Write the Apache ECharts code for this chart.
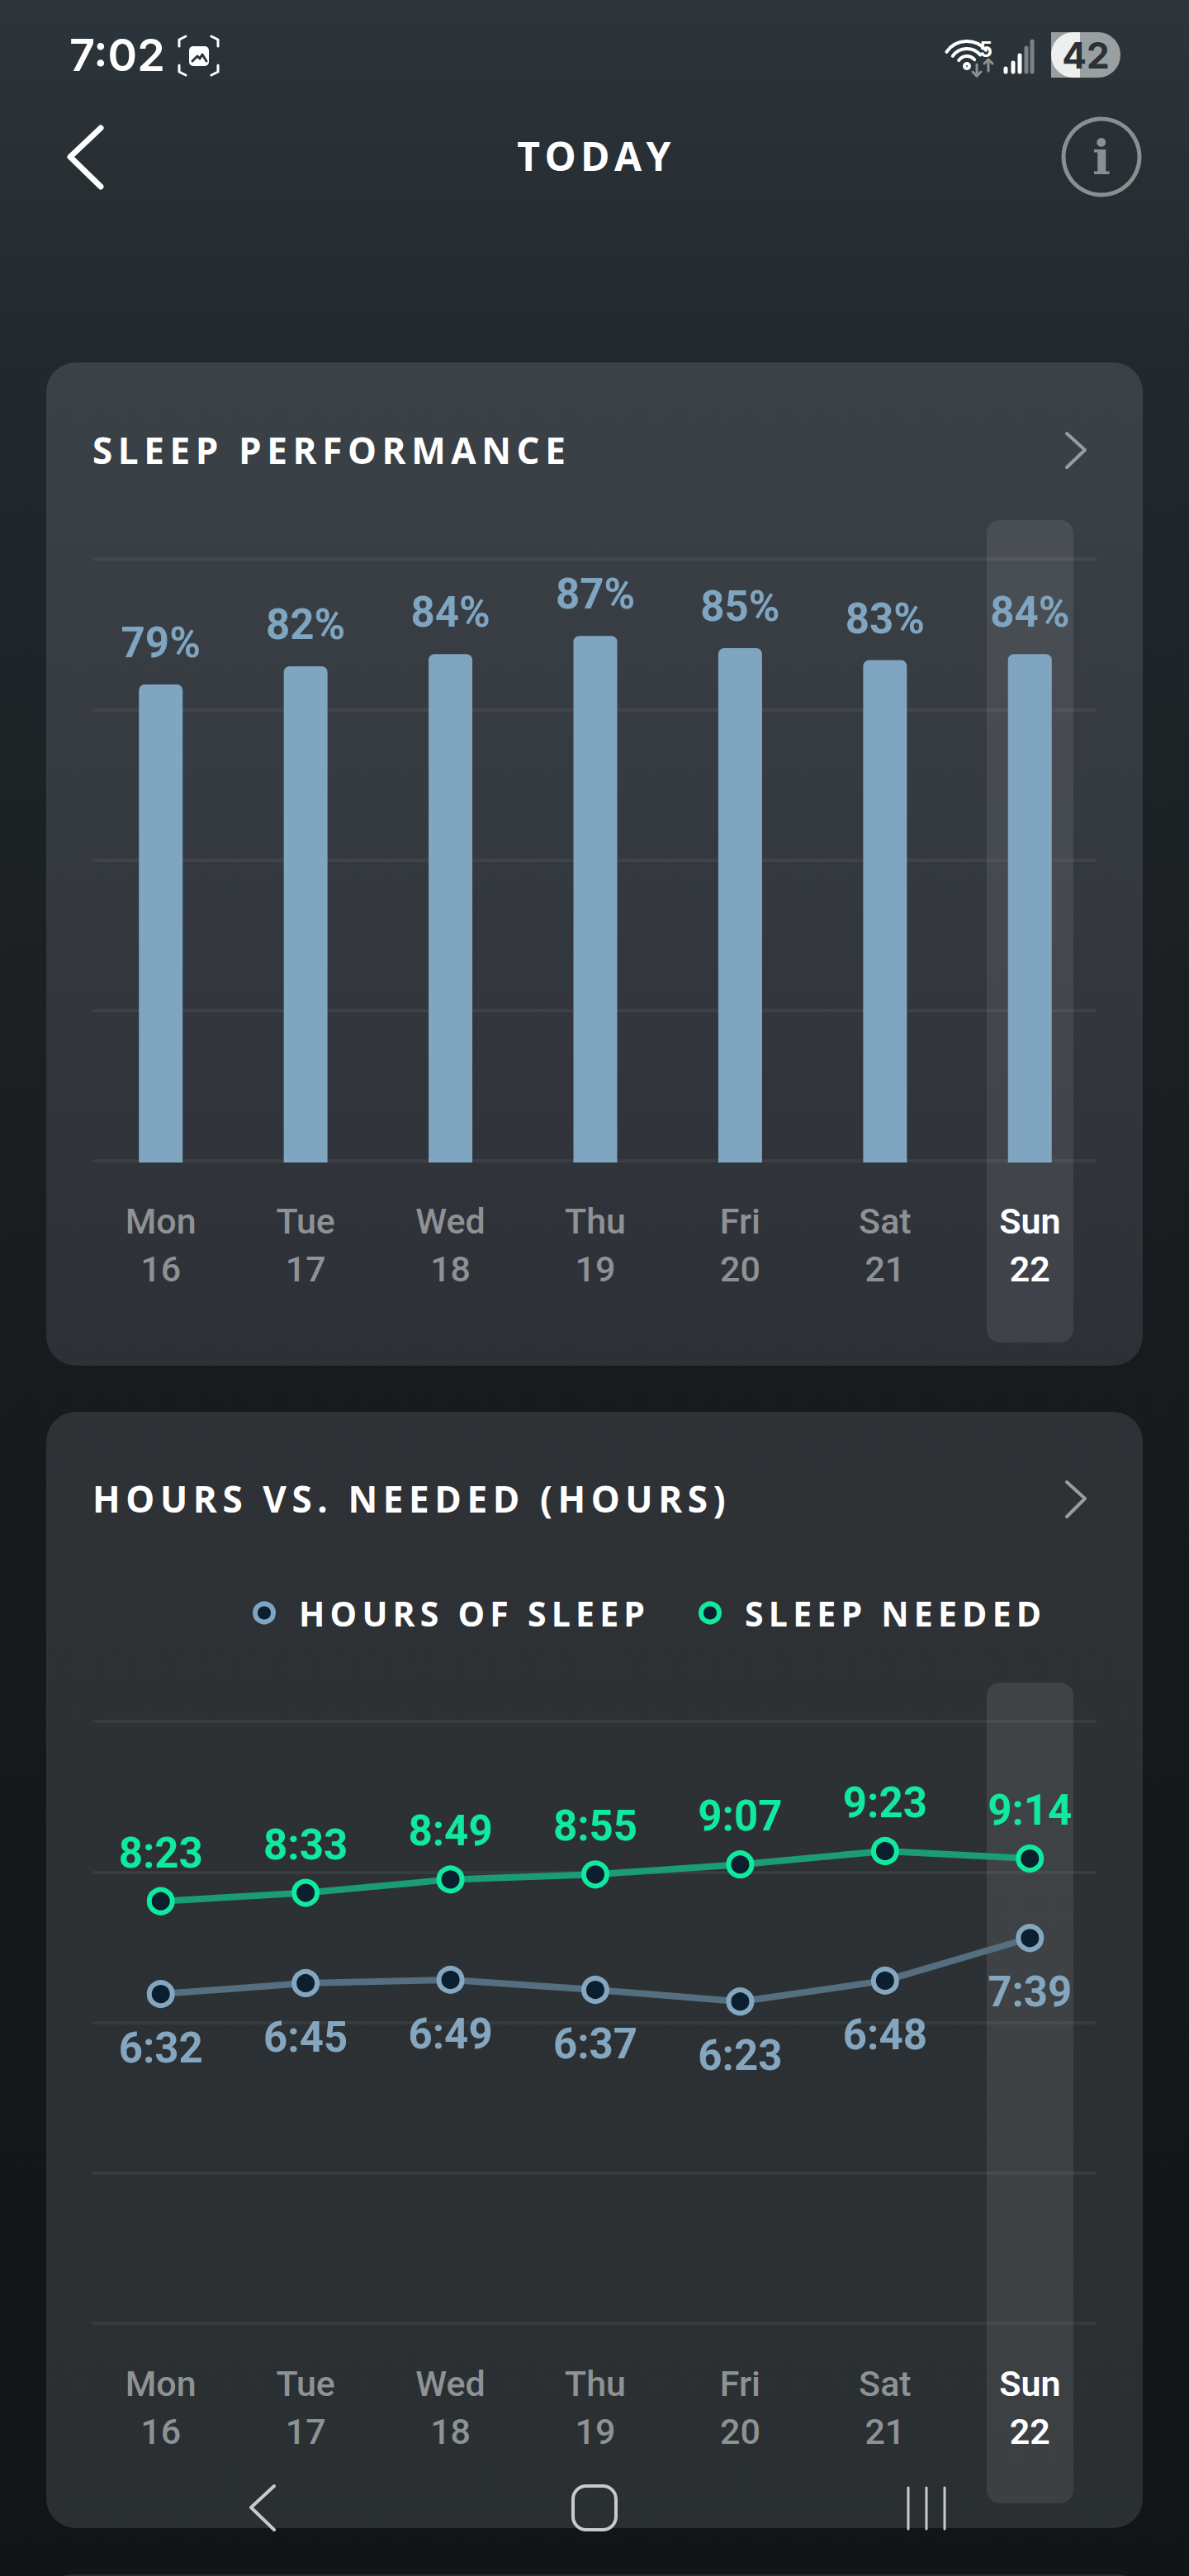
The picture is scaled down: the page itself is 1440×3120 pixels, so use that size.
<!DOCTYPE html>
<html>
<head>
<meta charset="utf-8">
<script src="https://cdn.jsdelivr.net/npm/echarts@6/dist/echarts.min.js"></script>
<style>
html,body{margin:0;padding:0;width:1440px;height:3120px;overflow:hidden;
background:linear-gradient(180deg,#2c353b 0px,#262d31 300px,#22282c 440px,#171b1e 1650px,#111517 3120px);}
#c{width:1440px;height:3120px;}
text[style*="41px"]{letter-spacing:6.2px;}
text[style*="44px"][style*="Open Sans"]{letter-spacing:6.6px;}
text[style*="48px"][style*="Open Sans"]{letter-spacing:5.4px;}
</style>
</head>
<body>
<div id="c"></div>
<script>
const days = ['Mon','Tue','Wed','Thu','Fri','Sat','Sun'];
const dates = [16,17,18,19,20,21,22];
const performance = [79,82,84,87,85,83,84];
const hoursOfSleep = ['6:32','6:45','6:49','6:37','6:23','6:48','7:39'];
const sleepNeeded = ['8:23','8:33','8:49','8:55','9:07','9:23','9:14'];
const perfTicks = {min:0,max:100,interval:25};
const hoursTicks = {min:0,max:720,interval:180};

const toMin = s => { const [h,m]=s.split(':').map(Number); return h*60+m; };
const toClock = v => Math.floor(v/60)+':'+String(v%60).padStart(2,'0');

const BLUE='#7fa5c0', GREEN='#10ea9f', INNER='#0b1f2e', GRID='rgba(255,255,255,0.055)', GREY='#8e9294';
const LABEL_FONT='Roboto';
const TITLE_FONT='700 44px "Open Sans"';
const axisCats = days.map((d,i)=>({
  value:d+'\n'+dates[i],
  textStyle: d==='Sun' ? {color:'#ffffff',fontWeight:600} : {color:GREY,fontWeight:500}
}));

const grids=[
  {left:112,width:1216,top:677,height:729},
  {left:107,width:1228,top:675,height:733},
  {left:112,width:1216,top:2085,height:729},
  {left:107,width:1228,top:2083,height:729}
];
const hiddenX=g=>({type:'category',gridIndex:g,data:days,show:false});
const dataX=(g,m)=>({type:'category',gridIndex:g,data:axisCats,
  axisLine:{show:false},axisTick:{show:false},
  axisLabel:{interval:0,margin:m,fontFamily:'Roboto',fontSize:43,lineHeight:58,color:GREY}});
const lineY=(g,t)=>({type:'value',gridIndex:g,min:t.min,max:t.max,interval:t.interval,
  axisLine:{show:false},axisTick:{show:false},axisLabel:{show:false},
  splitLine:{show:true,lineStyle:{color:GRID,width:4}}});
const hiddenY=(g,t)=>({type:'value',gridIndex:g,min:t.min,max:t.max,show:false,splitLine:{show:false}});

const W='#ffffff';
const z=-1;
const txt=(text,x,y,font,fill,align)=>({type:'text',z,silent:true,style:{text,x,y,font,fill,textAlign:align||'left',textVerticalAlign:'middle'}});
const poly=(points,stroke,lineWidth)=>({type:'polyline',z,silent:true,shape:{points},style:{stroke,lineWidth,fill:null,lineCap:'round',lineJoin:'round'}});
const rr=(x,y,width,height,r,fill)=>({type:'rect',z,silent:true,shape:{x,y,width,height,r},style:{fill}});
const grad=(a,b)=>new echarts.graphic.LinearGradient(0,0,0,1,[{offset:0,color:a},{offset:1,color:b}]);
const arc=(cx,cy,r,s,e,stroke,w)=>({type:'arc',z,silent:true,shape:{cx,cy,r,startAngle:s*Math.PI/180,endAngle:e*Math.PI/180},style:{stroke,lineWidth:w,fill:null,lineCap:'round'}});

const chrome=[
  rr(56,439,1328,1215,36,grad('#3b4247','#2d3037')),
  rr(56,1710,1328,1352,36,grad('#2e3236','#2a2f32')),
  rr(56,3118,1328,60,36,'#272b2e'),
  rr(1195,630,105,996,16,'rgba(255,255,255,0.085)'),
  rr(1195,2038,105,994,16,'rgba(255,255,255,0.085)'),
  // status bar
  txt('7:02',84,66,'600 54px Inter',W),
  poly([[217,56],[217,48],[225,44]],W,3),poly([[256,44],[264,48],[264,56]],W,3),
  poly([[217,79],[217,87],[225,91]],W,3),poly([[256,91],[264,87],[264,79]],W,3),
  rr(229,56,24,24,5,W),
  poly([[233,74],[239,68],[242,71],[245,66],[250,74]],'#2b343a',3),
  arc(1171,80,3,0,360,W,4),arc(1171,80,12,215,320,W,4),arc(1171,80,21,215,320,W,4),arc(1171,80,30,215,320,W,4),
  txt('5',1186,60,'700 25px Inter',W),
  poly([[1183,78],[1183,92]],'#8d9295',3),poly([[1178,87],[1183,92],[1188,87]],'#8d9295',3),
  poly([[1197,86],[1197,72]],'#8d9295',3),poly([[1192,77],[1197,72],[1202,77]],'#8d9295',3),
  poly([[1218,83],[1218,87]],W,5),poly([[1227,76],[1227,87]],W,5),poly([[1235,67],[1235,87]],W,5),
  poly([[1243,58],[1243,87]],'#7c8285',5),poly([[1250,50],[1250,87]],'#7c8285',5),
  rr(1273,39,84,55,[0,27,27,0],'#9a9fa1'),
  rr(1273,39,35,55,[27,0,0,27],'#eef0f0'),
  txt('42',1315,67,'700 44px Inter','#2a3238','center'),
  // header
  poly([[122,155],[85,190],[122,226]],W,7),
  txt('TODAY',722,188,'700 48px "Open Sans"',W,'center'),
  {type:'circle',z,silent:true,shape:{cx:1334,cy:190,r:46},style:{fill:null,stroke:'#8b8f91',lineWidth:5}},
  txt('i',1334,191,'700 58px "DejaVu Serif"','#8b8f91','center'),
  // titles
  txt('SLEEP PERFORMANCE',112,545,TITLE_FONT,W),
  poly([[1292,525],[1314,545],[1292,566]],'#9a9d9f',4),
  txt('HOURS VS. NEEDED (HOURS)',112,1815,TITLE_FONT,W),
  poly([[1292,1795],[1314,1815],[1292,1837]],'#9a9d9f',4),
  // nav bar
  poly([[332,3011],[304,3037],[332,3064]],'#c8cbcc',4),
  {type:'rect',z,silent:true,shape:{x:694,y:3011,width:52,height:53,r:16},style:{fill:null,stroke:'#c8cbcc',lineWidth:4}},
  poly([[1100,3013],[1100,3063]],'#c8cbcc',3),poly([[1122,3013],[1122,3063]],'#c8cbcc',3),poly([[1144,3013],[1144,3063]],'#c8cbcc',3)
];

const legendBase={orient:'horizontal',itemWidth:74,itemHeight:22,padding:0,selectedMode:false,icon:'circle',
  textStyle:{fontFamily:'Open Sans',fontWeight:700,fontSize:41,color:W}};

const lineSeries=(name,vals,color,lineColor,pos,dist,xi,yi)=>({
  name,type:'line',xAxisIndex:xi,yAxisIndex:yi,data:vals.map(toMin),
  symbol:'circle',symbolSize:28,showSymbol:true,
  lineStyle:{color:lineColor,width:8},
  itemStyle:{color:INNER,borderColor:color,borderWidth:6,opacity:1},
  emphasis:{disabled:true},animation:false,z:3,
  label:{show:true,position:pos,distance:dist,formatter:p=>toClock(p.value),
    fontFamily:LABEL_FONT,fontWeight:700,fontSize:51,color:color}
});

const chart=echarts.init(document.getElementById('c'),null,{renderer:'svg',width:1440,height:3120});
chart.setOption({
  animation:false,
  backgroundColor:'transparent',
  grid:grids,
  xAxis:[hiddenX(0),dataX(1,42),hiddenX(2),dataX(3,46)],
  yAxis:[lineY(0,perfTicks),hiddenY(1,perfTicks),lineY(2,hoursTicks),hiddenY(3,hoursTicks)],
  legend:[
    Object.assign({},legendBase,{left:306,top:1933,data:[{name:'HOURS OF SLEEP',itemStyle:{color:INNER,borderColor:'#7fa5c0',borderWidth:6}}]}),
    Object.assign({},legendBase,{left:846,top:1933,data:[{name:'SLEEP NEEDED',itemStyle:{color:INNER,borderColor:GREEN,borderWidth:6}}]})
  ],
  graphic:{elements:chrome},
  series:[
    {name:'SLEEP PERFORMANCE',type:'bar',xAxisIndex:1,yAxisIndex:1,data:performance,barWidth:53,
     itemStyle:{color:BLUE,borderRadius:[7,7,0,0]},emphasis:{disabled:true},
     label:{show:true,position:'top',distance:25,formatter:p=>p.value+'%',
       fontFamily:LABEL_FONT,fontWeight:700,fontSize:51,color:BLUE}},
    lineSeries('HOURS OF SLEEP',hoursOfSleep,'#85a6bf','#556f80','bottom',23,3,3),
    lineSeries('SLEEP NEEDED',sleepNeeded,GREEN,'#1b9c76','top',16,3,3)
  ]
});
</script>
</body>
</html>
